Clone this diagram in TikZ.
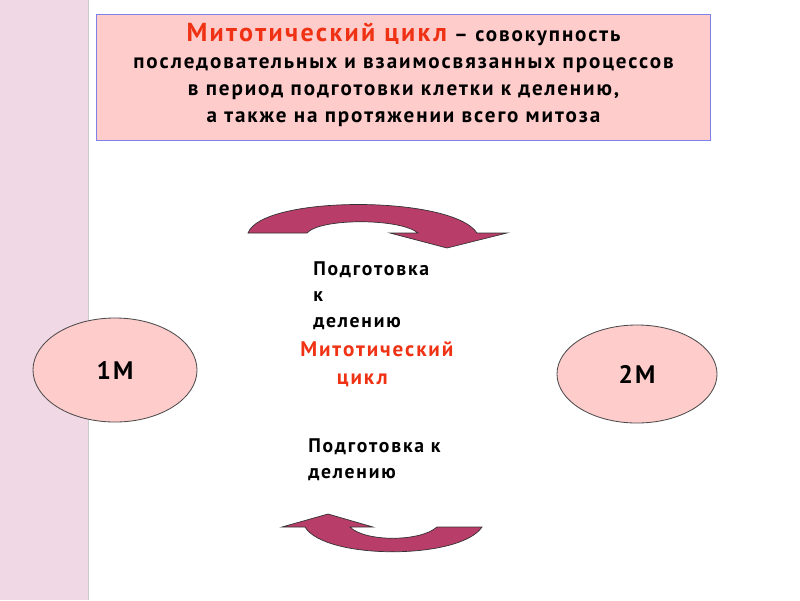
\documentclass[tikz,border=0pt]{standalone}
\usepackage{fontspec}
\setmainfont{PT Sans}[LetterSpace=9]
\usetikzlibrary{shapes.geometric}
\definecolor{stripe}{RGB}{240,216,228}
\definecolor{boxpink}{RGB}{255,204,204}
\definecolor{boxline}{RGB}{128,128,235}
\definecolor{arrowfill}{RGB}{184,61,104}
\definecolor{titlered}{RGB}{240,50,20}
\tikzset{
  phase/.style={ellipse, draw=black!70, fill=boxpink, line width=0.6pt,
    font=\bfseries\fontsize{18}{20}\selectfont},
  note/.style={anchor=north west, align=left, inner sep=0pt,
    font=\bfseries\fontsize{14}{18.5}\selectfont},
  loop/.style={fill=arrowfill, draw=black!80, line width=0.5pt}
}

\begin{document}
\begin{tikzpicture}[x=0.025cm,y=-0.025cm]
  \useasboundingbox (0,0) rectangle (800,600);
  % left stripe
  \fill[stripe] (0,0) rectangle (88,600);
  \draw[black!20] (88,0) -- (88,600);
  % definition box
  \node[draw=boxline, fill=boxpink, line width=0.7pt, minimum width=15.325cm,
    minimum height=3.125cm, inner sep=0pt] (def) at (403.5,77.5) {};
  \node[align=center, inner sep=0pt,
    font=\bfseries\fontsize{15}{19.2}\selectfont] (deftext) at (403.5,75)
    {{\color{titlered}\fontsize{18.5}{19.2}\selectfont Митотический цикл} – совокупность\\
     последовательных  и взаимосвязанных процессов\\
     в период подготовки клетки  к делению,\\
     а также на протяжении всего митоза};
  % phases
  \node[phase, minimum width=4.1cm, minimum height=2.6cm] (m1) at (115,370) {1M};
  \node[phase, minimum width=4.0cm, minimum height=2.45cm] (m2) at (637,374) {2M};
  % upper arrow
  \draw[loop] (248,233) .. controls (262,195) and (452,195) .. (477,233)
    -- (507,233) -- (447,248) -- (390,233) -- (418,233)
    .. controls (400,218) and (320,218) .. (307,233) -- cycle;
  % lower arrow
  \draw[loop] (328,514) -- (373,527) -- (350,527)
    .. controls (365,542) and (420,542) .. (437,527) -- (482,527)
    .. controls (460,560) and (325,560) .. (305,527) -- (282,527) -- cycle;
  % labels
  \node[note] (prep1) at (313,261) {Подготовка\\к\\делению};
  \node[note, text=titlered, font=\bfseries\fontsize{15}{20}\selectfont]
    (cycle) at (300,341) {Митотический\\\hspace*{26pt}цикл};
  \node[note] (prep2) at (308,438) {Подготовка к\\делению};
\end{tikzpicture}
\end{document}
